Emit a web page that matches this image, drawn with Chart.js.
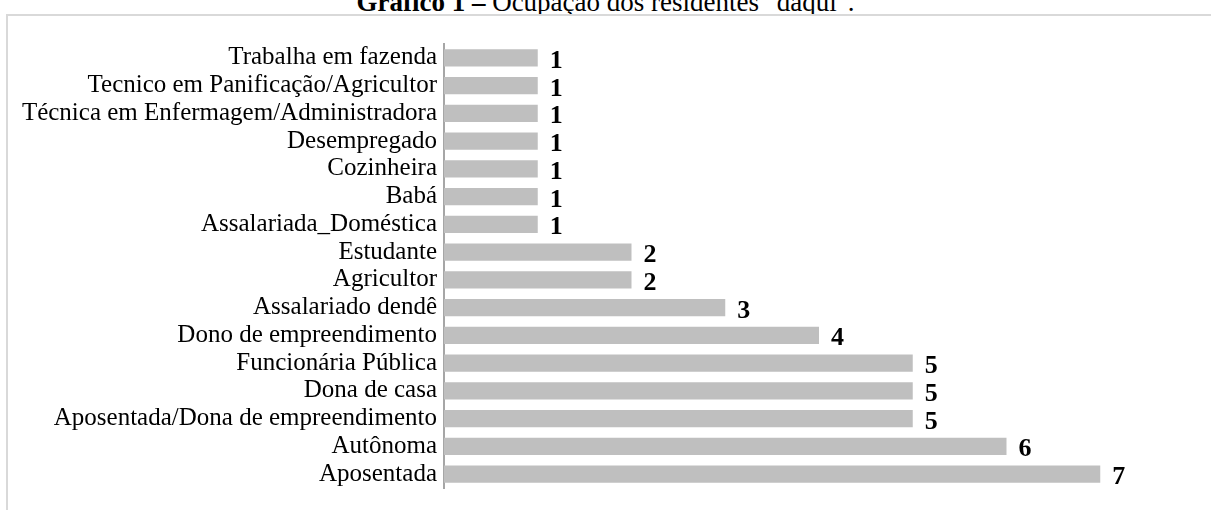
<!DOCTYPE html>
<html>
<head>
<meta charset="utf-8">
<script src="https://cdn.jsdelivr.net/npm/chart.js@4"></script>
<style>
  body { margin: 0; background: #fff; overflow: hidden; }
  #title {
    position: absolute; left: 0; width: 1211px; top: -11px;
    text-align: center; font-family: "Liberation Serif", serif; font-size: 27px; line-height: 1;
    color: #000;
  }
  #frame {
    position: absolute; left: 6px; top: 14px; width: 1300px; height: 600px;
    border: 2px solid #d9d9d9; box-sizing: border-box; background: #fff;
  }
  #wrap { position: absolute; left: 0; top: 0; width: 1211px; height: 510px; }
</style>
</head>
<body>
<div id="title"><b>Gráfico 1 –</b> Ocupação dos residentes "daqui".</div>
<div id="frame"></div>
<div id="wrap"><canvas id="chart"></canvas></div>
<script>
const occupations = [
  "Trabalha em fazenda",
  "Tecnico em Panificação/Agricultor",
  "Técnica em Enfermagem/Administradora",
  "Desempregado",
  "Cozinheira",
  "Babá",
  "Assalariada_Doméstica",
  "Estudante",
  "Agricultor",
  "Assalariado dendê",
  "Dono de empreendimento",
  "Funcionária Pública",
  "Dona de casa",
  "Aposentada/Dona de empreendimento",
  "Autônoma",
  "Aposentada"
];
const counts = [1, 1, 1, 1, 1, 1, 1, 2, 2, 3, 4, 5, 5, 5, 6, 7];

// draw the value next to each bar
const valueLabels = {
  id: "valueLabels",
  afterDatasetsDraw(chart) {
    const ctx = chart.ctx;
    const meta = chart.getDatasetMeta(0);
    ctx.save();
    ctx.font = "bold 26px 'Liberation Serif'";
    ctx.fillStyle = "#000";
    ctx.textAlign = "left";
    ctx.textBaseline = "alphabetic";
    meta.data.forEach((bar, i) => {
      ctx.fillText(String(counts[i]), bar.x + 12, bar.y + 10);
    });
    ctx.restore();
  }
};

new Chart(document.getElementById("chart"), {
  type: "bar",
  data: {
    labels: occupations,
    datasets: [{
      data: counts,
      backgroundColor: "#bfbfbf",
      borderWidth: 0,
      barPercentage: 0.75,
      categoryPercentage: 0.82
    }]
  },
  plugins: [valueLabels],
  options: {
    indexAxis: "y",
    responsive: true,
    maintainAspectRatio: false,
    animation: false,
    layout: { padding: { top: 44, bottom: 22, right: 17, left: 0 } },
    plugins: {
      legend: { display: false },
      tooltip: { enabled: false }
    },
    scales: {
      x: {
        display: false,
        min: 0,
        max: 8
      },
      y: {
        afterFit(scale) { scale.width = 444; },
        grid: { display: false, drawTicks: false },
        border: { display: true, color: "#a6a6a6", width: 2 },
        ticks: {
          autoSkip: false,
          color: "#000",
          padding: 7,
          font: { family: "Liberation Serif", size: 25 }
        }
      }
    }
  }
});
</script>
</body>
</html>
